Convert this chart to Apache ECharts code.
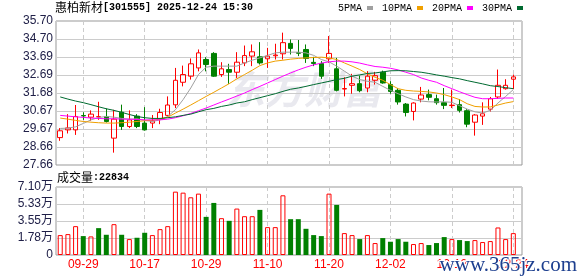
<!DOCTYPE html>
<html><head><meta charset="utf-8">
<script src="https://cdn.jsdelivr.net/npm/echarts@6/dist/echarts.min.js"></script>
<style>html,body{margin:0;padding:0;background:#fff}#c{width:578px;height:276px}</style>
</head><body><div id="c"></div>
<script>
const stockName = '惠柏新材';
const stockCode = '301555';
const stamp = '2025-12-24 15:30';
const volTitle = '成交量';
const dates = ['09-24','09-25','09-26','09-29','09-30','10-09','10-10','10-13','10-14','10-15','10-16','10-17',
'10-20','10-21','10-22','10-23','10-24','10-27','10-28','10-29','10-30','10-31','11-03','11-04','11-05','11-06','11-07','11-10',
'11-11','11-12','11-13','11-14','11-17','11-18','11-19','11-20','11-21','11-24','11-25','11-26','11-27','11-28','12-01','12-02',
'12-03','12-04','12-05','12-08','12-09','12-10','12-11','12-12','12-15','12-16','12-17','12-18','12-19','12-22','12-23','12-24'];
const opens = [29.19,29.62,29.62,30.42,30.33,30.35,30.37,29.16,30.61,29.81,30.39,30.00,30.00,30.22,30.43,31.02,32.28,32.62,33.08,33.55,
33.89,32.71,32.99,32.84,33.36,33.74,33.70,33.59,33.76,33.87,34.45,33.93,34.11,33.39,33.33,33.59,33.03,31.90,32.11,32.20,
31.96,32.39,32.84,32.15,31.83,31.06,30.65,31.34,31.59,31.36,31.14,30.98,31.03,30.69,30.05,30.39,30.78,31.46,31.92,32.45];
const closes = [29.57,29.73,30.37,30.40,30.50,30.36,30.09,30.22,29.81,30.18,29.81,29.62,30.13,30.59,31.01,32.39,32.71,33.31,33.92,33.27,
32.62,33.03,32.84,33.40,33.77,33.98,33.36,33.74,33.80,34.49,34.17,33.90,33.61,33.33,32.62,33.89,31.83,31.93,32.20,31.81,
32.62,32.65,32.24,31.77,31.18,30.59,31.12,31.57,31.44,31.14,30.99,31.00,30.71,29.94,30.45,30.52,31.36,32.11,32.11,32.58];
const lows = [29.01,29.42,29.34,30.18,30.13,30.18,30.03,28.35,29.62,29.72,29.72,29.58,29.72,29.94,30.37,30.84,32.05,32.43,32.89,32.89,
32.58,32.58,32.19,32.52,33.18,33.18,33.27,33.08,33.55,33.55,33.83,33.74,33.36,33.18,32.47,33.36,31.77,31.49,31.64,31.72,
31.72,32.15,32.20,31.64,31.03,30.37,30.15,31.16,31.27,31.03,30.78,30.84,30.59,29.77,29.30,29.90,30.65,31.36,31.87,31.90];
const highs = [29.72,30.50,31.01,30.60,30.71,31.19,30.82,30.74,31.03,30.71,30.50,30.89,30.45,30.80,31.49,33.08,33.21,33.61,34.11,33.68,
33.96,33.40,33.31,33.96,34.33,34.39,34.52,34.20,34.43,35.05,34.67,34.64,34.39,33.70,33.46,34.86,33.64,32.56,32.75,32.65,
32.90,32.86,32.93,32.34,31.96,31.12,31.16,32.02,31.87,31.59,31.96,31.87,31.34,30.78,30.50,31.16,31.46,32.99,32.45,32.71];
const volumes = [20780,21820,30130,19740,19400,28050,21120,32200,21120,16620,18010,23200,20780,27010,30130,66140,65100,60260,64070,39820,
54370,38440,35670,48480,40520,40520,47100,29090,29090,62330,37400,37400,27360,20780,19740,64070,52290,22860,20780,16620,
20780,12470,17660,13850,16620,13850,11430,12470,10390,12470,18700,16620,15580,14540,15580,13510,14540,28740,16620,22834];
const volUp = [1,1,1,0,1,0,0,1,0,1,0,0,1,1,1,1,1,1,1,0,0,1,0,1,1,1,0,1,1,1,0,0,0,0,0,1,0,1,1,0,1,1,0,0,0,0,1,1,0,0,0,1,0,0,1,1,1,1,1,1];
const ma5 = [29.70,29.72,29.79,29.98,30.18,30.31,30.37,30.33,30.26,30.22,30.24,30.15,30.09,30.18,30.37,30.75,31.31,31.96,32.71,33.12,
33.18,33.18,33.18,33.18,33.36,33.51,33.64,33.78,33.92,33.96,33.96,33.96,33.92,33.78,33.55,33.42,33.18,32.90,32.62,32.43,
32.33,32.28,32.05,31.83,31.64,31.46,31.31,31.23,31.19,31.18,31.19,31.16,30.97,30.78,30.63,30.56,30.71,31.12,31.49,31.87];
const ma10 = [30.28,30.22,30.15,30.09,30.05,30.02,30.00,30.00,30.02,30.05,30.09,30.13,30.16,30.22,30.33,30.56,30.78,31.01,31.25,31.49,
31.72,31.96,32.20,32.47,32.71,32.95,33.21,33.36,33.46,33.51,33.57,33.61,33.64,33.66,33.68,33.64,33.55,33.36,33.18,32.99,
32.75,32.56,32.39,32.15,31.92,31.83,31.79,31.77,31.74,31.68,31.59,31.46,31.31,31.08,30.93,30.90,30.90,31.01,31.12,31.20];
const ma20 = [30.43,30.39,30.35,30.32,30.28,30.26,30.24,30.24,30.22,30.22,30.20,30.18,30.18,30.18,30.22,30.30,30.41,30.54,30.69,30.84,
31.01,31.18,31.34,31.51,31.68,31.87,32.05,32.24,32.43,32.62,32.80,32.97,33.12,33.25,33.35,33.42,33.46,33.46,33.42,33.35,
33.25,33.16,33.12,33.06,32.97,32.84,32.71,32.52,32.39,32.28,32.09,31.92,31.75,31.59,31.44,31.36,31.36,31.38,31.40,31.40];
const ma30 = [31.46,31.34,31.23,31.14,31.03,30.91,30.80,30.71,30.60,30.48,30.37,30.30,30.26,30.26,30.30,30.35,30.43,30.50,30.63,30.75,
30.82,30.93,31.01,31.12,31.19,31.31,31.42,31.53,31.64,31.77,31.89,31.96,32.05,32.15,32.24,32.33,32.43,32.50,32.62,32.69,
32.77,32.80,32.86,32.92,32.93,32.92,32.88,32.84,32.77,32.69,32.62,32.54,32.47,32.37,32.28,32.19,32.09,32.04,31.98,31.92];
const priceTicks = [27.66,28.66,29.67,30.67,31.68,32.69,33.69,34.70,35.70];
const volMax = 71000, volStep = 17750;
const labelIdx = [3,11,19,27,35,43,51,59];
const maNames = ['5PMA','10PMA','20PMA','30PMA'];
const maColors = ['#a0a0a0','#f0a000','#ff00ff','#006a30'];

const RED = '#ff0000', GREEN = '#008000';
const labelColor = '#202048';
const xMin = -0.55, xMax = 60.13;

const chart = echarts.init(document.getElementById('c'), null, {renderer: 'canvas'});
const xCommon = {
  type: 'value', min: xMin, max: xMax,
  axisLine: {show: false},
  axisTick: {show: false, customValues: labelIdx},
  splitLine: {show: true, lineStyle: {color: '#cccccc', type: [4, 3], width: 1}}
};
const maSeries = [ma5, ma10, ma20, ma30].map((arr, k) => ({
  name: maNames[k], type: 'line', xAxisIndex: 0, yAxisIndex: 0,
  data: arr.map((v, i) => [i, v]), showSymbol: false, symbol: 'none',
  lineStyle: {width: 1, color: maColors[k]}, itemStyle: {color: maColors[k]},
  z: 4, silent: true
}));
chart.setOption({
  animation: false,
  backgroundColor: '#ffffff',
  title: [
    {text: '{a|' + stockName + '}{b|[' + stockCode + '] ' + stamp + '}', left: 55, top: 1, padding: 0,
     textStyle: {rich: {a: {fontFamily: 'Noto Sans CJK SC', fontSize: 12, fontWeight: 'normal', color: '#000'},
                        b: {fontFamily: 'Liberation Mono', fontSize: 10, color: '#000'}}}},
    {text: '{a|' + volTitle + '}{b|:' + volumes[volumes.length - 1] + '}', left: 57, top: 171, padding: 0,
     textStyle: {rich: {a: {fontFamily: 'Noto Sans CJK SC', fontSize: 12, fontWeight: 'normal', color: '#000'},
                        b: {fontFamily: 'Liberation Mono', fontSize: 10, color: '#000'}}}}
  ],
  legend: {
    data: maNames, left: 338, top: 3, padding: 0, icon: 'rect', itemWidth: 6, itemHeight: 4,
    itemGap: 9, align: 'right', selectedMode: false,
    textStyle: {fontFamily: 'Liberation Mono', fontSize: 10, color: '#000'}
  },
  grid: [
    {left: 56, right: 56, top: 21, height: 144, show: true, borderColor: '#999999', borderWidth: 1, backgroundColor: 'transparent'},
    {left: 56, right: 56, top: 187, height: 68, show: true, borderColor: '#999999', borderWidth: 1, backgroundColor: 'transparent'}
  ],
  xAxis: [
    Object.assign({gridIndex: 0, axisLabel: {show: false}}, xCommon),
    Object.assign({gridIndex: 1, axisLabel: {show: true, customValues: labelIdx, formatter: v => dates[Math.round(v)],
      color: RED, fontSize: 12, fontFamily: 'Liberation Sans', margin: 4}}, xCommon)
  ],
  yAxis: [
    {type: 'value', gridIndex: 0, min: priceTicks[0], max: priceTicks[priceTicks.length - 1],
     axisLine: {show: false}, axisTick: {show: false, customValues: priceTicks},
     axisLabel: {customValues: priceTicks, formatter: v => v.toFixed(2), color: labelColor, fontSize: 12,
       fontFamily: 'Liberation Sans', margin: 3},
     splitLine: {show: true, lineStyle: {color: '#cccccc', width: 1}}},
    {type: 'value', gridIndex: 1, min: 0, max: volMax, interval: volStep,
     axisLine: {show: false}, axisTick: {show: false},
     axisLabel: {formatter: v => v === 0 ? '0' : (Math.round(v / 100) / 100).toFixed(2) + '万', color: labelColor,
       fontSize: 12, fontFamily: 'Liberation Sans, Noto Sans CJK SC', margin: 3},
     splitLine: {show: true, lineStyle: {color: '#cccccc', width: 1}}}
  ],
  graphic: [
    {type: 'text', left: 226, top: 70, z: -1, silent: true,
     style: {text: '东方财富', font: 'italic bold 39px "Noto Sans CJK SC"', fill: '#e9e9ef'}},
    {type: 'text', right: 0, bottom: -1, z: 100, silent: true,
     style: {text: 'www.365jz.com', font: '21px "Liberation Serif"', fill: '#1d3f8f', stroke: '#ffffff', lineWidth: 2}}
  ],
  series: [
    {type: 'candlestick', name: 'K', xAxisIndex: 0, yAxisIndex: 0, barWidth: 5,
     data: opens.map((o, i) => [i, o, closes[i], lows[i], highs[i]]),
     encode: {x: 0, y: [1, 2, 3, 4]},
     itemStyle: {color: 'rgba(255,255,255,0)', color0: GREEN, borderColor: RED, borderColor0: GREEN, borderWidth: 1},
     z: 3, silent: true},
    {type: 'bar', name: 'VOL', xAxisIndex: 1, yAxisIndex: 1, barWidth: 5,
     data: volumes.map((v, i) => ({value: [i, v], itemStyle: volUp[i]
        ? {color: 'rgba(255,255,255,0)', borderColor: RED, borderWidth: 1}
        : {color: GREEN, borderWidth: 0}})),
     z: 3, silent: true}
  ].concat(maSeries)
});
</script></body></html>
